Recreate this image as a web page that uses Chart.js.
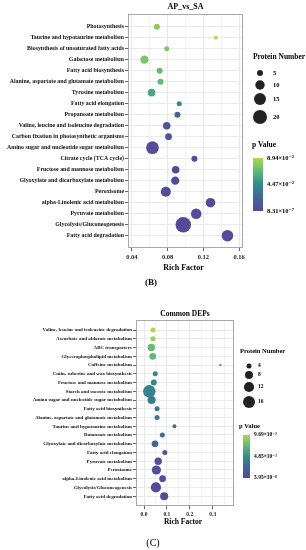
<!DOCTYPE html>
<html>
<head>
<meta charset="utf-8">
<script src="https://cdn.jsdelivr.net/npm/chart.js@4.4.1/dist/chart.umd.min.js"></script>
<style>
  html, body { margin: 0; padding: 0; background: #fff; }
  #boxB { position: absolute; left: 0; top: 0; }
  #boxC { position: absolute; left: 0; top: 290px; }
</style>
</head>
<body>
<canvas id="boxB" width="306" height="290"></canvas>
<canvas id="boxC" width="306" height="260"></canvas>
<script>
// ---------- (B) AP_vs_SA
var pathwaysB = ['Photosynthesis', 'Taurine and hypotaurine metabolism', 'Biosynthesis of unsaturated fatty acids',
  'Galactose metabolism', 'Fatty acid biosynthesis', 'Alanine, aspartate and glutamate metabolism', 'Tyrosine metabolism',
  'Fatty acid elongation', 'Propanoate metabolism', 'Valine, leucine and isoleucine degradation',
  'Carbon fixation in photosynthetic organisms', 'Amino sugar and nucleotide sugar metabolism', 'Citrate cycle (TCA cycle)',
  'Fructose and mannose metabolism', 'Glyoxylate and dicarboxylate metabolism', 'Peroxisome',
  'alpha-Linolenic acid metabolism', 'Pyruvate metabolism', 'Glycolysis/Gluconeogenesis', 'Fatty acid degradation'];
var richB = [0.068, 0.134, 0.079, 0.054, 0.071, 0.072, 0.062, 0.093, 0.091, 0.079,
  0.081, 0.063, 0.110, 0.089, 0.0885, 0.078, 0.128, 0.112, 0.0975, 0.147];
var countB = [5, 3, 4, 8, 5, 5, 7, 4, 5, 7, 6, 17, 5, 7, 8, 11, 10, 12, 24, 14];
var pB = [0.080, 0.0894, 0.078, 0.075, 0.070, 0.068, 0.058, 0.042, 0.022, 0.012,
  0.010, 0.004, 0.002, 0.001, 0.001, 0.0005, 0.001, 0.0003, 0.0000008, 0.0001];
var xTicksB = [0.04, 0.08, 0.12, 0.16];
var xMinorB = [0.06, 0.10, 0.14];
var sizeTicksB = [5, 10, 15, 20];
var pTickLabelsB = ['8.94×10⁻²', '4.47×10⁻²', '8.31×10⁻⁷'];
var pRangeB = [8.31e-7, 8.94e-2];

// ---------- (C) Common DEPs
var pathwaysC = ['Valine, leucine and isoleucine degradation', 'Ascorbate and aldarate metabolism', 'ABC transporters',
  'Glycerophospholipid metabolism', 'Caffeine metabolism', 'Cutin, suberine and wax biosynthesis',
  'Fructose and mannose metabolism', 'Starch and sucrose metabolism', 'Amino sugar and nucleotide sugar metabolism',
  'Fatty acid biosynthesis', 'Alanine, aspartate and glutamate metabolism', 'Taurine and hypotaurine metabolism',
  'Butanoate metabolism', 'Glyoxylate and dicarboxylate metabolism', 'Fatty acid elongation', 'Pyruvate metabolism',
  'Peroxisome', 'alpha-Linolenic acid metabolism', 'Glycolysis/Gluconeogenesis', 'Fatty acid degradation'];
var richC = [0.039, 0.039, 0.032, 0.038, 0.333, 0.049, 0.043, 0.023, 0.033, 0.057,
  0.057, 0.133, 0.080, 0.048, 0.091, 0.062, 0.054, 0.081, 0.052, 0.088];
var countC = [4, 4, 7, 6, 2, 4, 5, 17, 8, 4, 4, 3, 4, 6, 4, 7, 10, 6, 12, 8];
var pC = [0.0969, 0.090, 0.075, 0.072, 0.050, 0.046, 0.044, 0.043, 0.038, 0.034,
  0.034, 0.030, 0.026, 0.024, 0.014, 0.008, 0.005, 0.006, 0.001, 0.003];
var xTicksC = [0.0, 0.1, 0.2, 0.3];
var xMinorC = [0.05, 0.15, 0.25, 0.35];
var sizeTicksC = [4, 8, 12, 16];
var pTickLabelsC = ['9.69×10⁻²', '4.85×10⁻²', '5.95×10⁻⁸'];
var pRangeC = [5.95e-8, 9.69e-2];

var stops = [[0, '#55499b'], [0.25, '#436499'], [0.5, '#2e8c8d'], [0.75, '#60b878'], [1, '#acd94a']];
var serif = "'Liberation Serif', 'DejaVu Serif', serif";

function hex(c) { return [1, 3, 5].map(function (i) { return parseInt(c.substr(i, 2), 16); }); }
function pColor(p, range) {
  var t = Math.max(0, Math.min(1, (p - range[0]) / (range[1] - range[0])));
  for (var i = 1; i < stops.length; i++) {
    if (t <= stops[i][0]) {
      var a = hex(stops[i - 1][1]), b = hex(stops[i][1]);
      var f = (t - stops[i - 1][0]) / (stops[i][0] - stops[i - 1][0]);
      return 'rgb(' + a.map(function (v, k) { return Math.round(v + (b[k] - v) * f); }).join(',') + ')';
    }
  }
  return stops[stops.length - 1][1];
}

function near(v, list) { return list.some(function (m) { return Math.abs(m - v) < 1e-9; }); }

// draws title, panel border, axis title, panel letter and the two legends
function extras(o) {
  return {
    id: 'extras',
    afterDraw: function (chart) {
      var ctx = chart.ctx, a = chart.chartArea;
      ctx.save();
      ctx.strokeStyle = '#a8a8a8';
      ctx.lineWidth = 1;
      ctx.strokeRect(a.left + 0.5, a.top + 0.5, a.right - a.left - 1, a.bottom - a.top - 1);
      ctx.fillStyle = '#000';
      ctx.textAlign = 'center';
      ctx.textBaseline = 'middle';
      var cx = (a.left + a.right) / 2;
      ctx.font = 'bold ' + o.titleSize + 'px ' + serif;
      ctx.fillText(o.title, cx, o.titleY);
      ctx.fillText('Rich Factor', cx - 2, o.xTitleY);
      ctx.font = o.letterFont + 'px ' + serif;
      ctx.fillText(o.letter, o.letterX, o.letterY);

      // size legend
      ctx.textAlign = 'left';
      ctx.font = 'bold ' + o.legSize + 'px ' + serif;
      ctx.fillText('Protein Number', o.legX, o.sizeTitleY);
      ctx.font = 'bold ' + (o.legSize - 1) + 'px ' + serif;
      o.sizeTicks.forEach(function (n, i) {
        ctx.fillStyle = '#222';
        ctx.beginPath();
        ctx.arc(o.dotX, o.dotY[i], o.sizeFn(n), 0, Math.PI * 2);
        ctx.fill();
        ctx.fillStyle = '#000';
        ctx.fillText(String(n), o.dotLabelX, o.dotY[i]);
      });

      // colour bar
      ctx.font = 'bold ' + o.legSize + 'px ' + serif;
      ctx.fillText('p Value', o.legX - 1, o.pTitleY);
      var g = ctx.createLinearGradient(0, o.barBottom, 0, o.barTop);
      stops.forEach(function (s) { g.addColorStop(s[0], s[1]); });
      ctx.fillStyle = g;
      ctx.fillRect(o.barX, o.barTop, o.barW, o.barBottom - o.barTop);
      ctx.fillStyle = '#000';
      ctx.font = 'bold ' + (o.legSize - 1) + 'px ' + serif;
      var ys = [o.barTop, (o.barTop + o.barBottom) / 2, o.barBottom];
      o.pLabels.forEach(function (t, i) { ctx.fillText(t, o.barX + o.barW + 4, ys[i]); });
      ctx.restore();
    }
  };
}

function makeChart(id, pathways, rich, count, pv, pRange, xMajor, xMinor, xMin, xMax, digits, o) {
  var allTicks = xMajor.concat(xMinor).sort(function (a, b) { return a - b; })
    .filter(function (v) { return v >= xMin && v <= xMax; });
  var points = pathways.map(function (name, i) { return { x: rich[i], y: i, r: o.sizeFn(count[i]) }; });
  return new Chart(document.getElementById(id), {
    type: 'bubble',
    data: {
      datasets: [{
        data: points,
        backgroundColor: pv.map(function (p) { return pColor(p, pRange); }),
        borderWidth: 0
      }]
    },
    options: {
      responsive: false,
      animation: false,
      events: [],
      layout: { padding: { top: o.padTop, right: o.padRight, left: 0, bottom: 0 } },
      plugins: { legend: { display: false }, tooltip: { enabled: false } },
      scales: {
        x: {
          type: 'linear', min: xMin, max: xMax,
          afterFit: function (s) { s.height = o.xHeight; },
          afterBuildTicks: function (s) { s.ticks = allTicks.map(function (v) { return { value: v }; }); },
          ticks: {
            autoSkip: false, maxRotation: 0, padding: 2, color: '#222',
            font: { family: serif, size: o.tickSize, weight: 'bold' },
            callback: function (v) { return near(v, xMajor) ? v.toFixed(digits) : ''; }
          },
          grid: {
            tickLength: 3,
            color: function (c) { return c.tick && near(c.tick.value, xMajor) ? '#e8e8e8' : '#f3f3f3'; },
            tickColor: function (c) { return c.tick && near(c.tick.value, xMajor) ? '#666' : 'rgba(0,0,0,0)'; }
          },
          border: { display: false }
        },
        y: {
          type: 'linear', reverse: true, min: -1.15, max: pathways.length - 1 + 1.12,
          afterFit: function (s) { s.width = o.yWidth; },
          afterBuildTicks: function (s) { s.ticks = pathways.map(function (n, i) { return { value: i }; }); },
          ticks: {
            autoSkip: false, padding: 1, color: '#111',
            font: { family: serif, size: o.labelSize, weight: 'bold' },
            callback: function (v) { return pathways[v]; }
          },
          grid: { tickLength: 3, color: '#ebebeb', tickColor: '#666' },
          border: { display: false }
        }
      }
    },
    plugins: [extras(o)]
  });
}

makeChart('boxB', pathwaysB, richB, countB, pB, pRangeB, xTicksB, xMinorB, 0.0356, 0.1644, 2, {
  sizeFn: function (n) { return Math.sqrt(Math.max(0.6, 2.667 * n - 4.33)); },
  padTop: 14, padRight: 63, yWidth: 128, xHeight: 42,
  tickSize: 6.5, labelSize: 5.9,
  title: 'AP_vs_SA', titleSize: 8, titleY: 7, xTitleY: 268,
  letter: '(B)', letterFont: 'bold 9', letterX: 151, letterY: 283,
  legX: 253, legSize: 7.5, sizeTitleY: 57, sizeTicks: sizeTicksB,
  dotX: 260, dotLabelX: 273, dotY: [73, 85, 99, 117],
  pTitleY: 145, barX: 253, barW: 10, barTop: 158, barBottom: 211, pLabels: pTickLabelsB
});

makeChart('boxC', pathwaysC, richC, countC, pC, pRangeC, xTicksC, xMinorC, -0.035, 0.393, 1, {
  sizeFn: function (n) { return Math.sqrt(Math.max(0.6, 2.48 * n - 3.67)); },
  padTop: 30, padRight: 72, yWidth: 136, xHeight: 44,
  tickSize: 5.5, labelSize: 5,
  title: 'Common DEPs', titleSize: 7.5, titleY: 24, xTitleY: 232,
  letter: '(C)', letterFont: '10', letterX: 153, letterY: 253,
  legX: 240, legSize: 6.5, sizeTitleY: 61, sizeTicks: sizeTicksC,
  dotX: 249, dotLabelX: 258, dotY: [76, 85, 97, 112],
  pTitleY: 136, barX: 243, barW: 7, barTop: 145, barBottom: 188, pLabels: pTickLabelsC
});
</script>
</body>
</html>
